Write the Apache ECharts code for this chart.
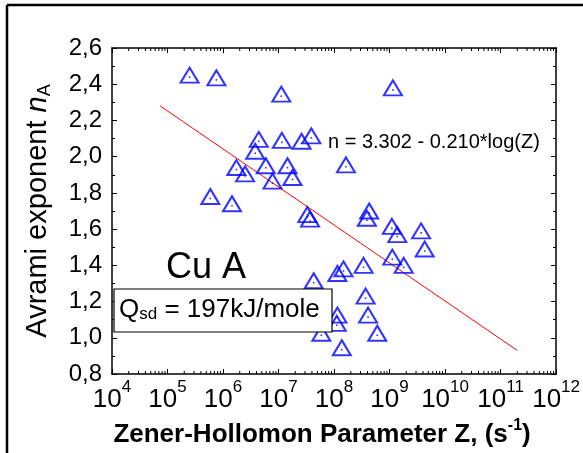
<!DOCTYPE html>
<html>
<head>
<meta charset="utf-8">
<script src="https://cdn.jsdelivr.net/npm/echarts@6/dist/echarts.min.js"></script>
<style>
html,body{margin:0;padding:0;background:#fff;}
#chart{width:583px;height:453px;}
</style>
</head>
<body>
<div id="chart"></div>
<script>
// Zener-Hollomon parameter Z (s^-1)
const zValues = [
  2.5e5, 7.6e5, 1.12e7, 4.4e6, 1.15e7, 2.6e7, 3.9e7, 3.8e6, 1.74e6, 2.5e6,
  5.9e6, 1.45e7, 7.8e6, 1.78e7, 5.9e5, 1.45e6, 3.3e7, 3.7e7, 1.64e8, 4.3e8,
  3.9e8, 1.1e9, 1.38e9, 3.7e9, 4.3e9, 1.12e9, 1.8e9, 3.4e8, 1.48e8, 1.15e8,
  4.3e7, 3.7e8, 4.1e8, 6.0e8, 1.15e8, 1.12e8, 5.9e7, 1.38e8, 1.15e9
];
// Avrami exponent n_A
const nValues = [
  2.45, 2.435, 2.345, 2.095, 2.09, 2.085, 2.115, 2.03, 1.94, 1.905,
  1.95, 1.95, 1.865, 1.885, 1.78, 1.74, 1.68, 1.655, 1.955, 1.70,
  1.66, 1.615, 1.57, 1.59, 1.49, 1.445, 1.40, 1.40, 1.38, 1.355,
  1.315, 1.23, 1.125, 1.025, 1.125, 1.08, 1.025, 0.945, 2.38
];
// Fit line n = 3.302 - 0.210*log(Z), end points
const fitZ = [7.4e4, 2.0e11];
const fitN = [2.28, 0.93];
const fitLabel = 'n = 3.302 - 0.210*log(Z)';
const yTicks = [0.8, 1.0, 1.2, 1.4, 1.6, 1.8, 2.0, 2.2, 2.4, 2.6];
const xDecades = [4, 5, 6, 7, 8, 9, 10, 11, 12];

const FONT = 'Liberation Sans, Arial, Helvetica, sans-serif';
const points = zValues.map((z, i) => [z, nValues[i]]);
const fit = fitZ.map((z, i) => [z, fitN[i]]);
const minorX = [];
for (let k = xDecades[0]; k < xDecades[xDecades.length - 1]; k++) {
  for (let m = 2; m <= 9; m++) minorX.push([m * Math.pow(10, k), yTicks[0]]);
}
const yMin = yTicks[0], yMax = yTicks[yTicks.length - 1];
const xMin = Math.pow(10, xDecades[0]), xMax = Math.pow(10, xDecades[xDecades.length - 1]);

const chart = echarts.init(document.getElementById('chart'), null, {renderer: 'canvas'});
const axisLineStyle = {color: '#000', width: 1.5};
chart.setOption({
  animation: false,
  backgroundColor: '#fff',
  grid: {left: 112, right: 25, top: 48, bottom: 75, containLabel: false},
  xAxis: [{
    type: 'log', logBase: 10, min: xMin, max: xMax, splitNumber: 8,
    position: 'bottom',
    axisLine: {show: true, lineStyle: axisLineStyle},
    axisTick: {show: true, inside: true, length: 5, lineStyle: {color: '#000', width: 1}},
    splitLine: {show: false},
    axisLabel: {
      margin: 5,
      formatter: v => '{b|10}{s|' + Math.round(Math.log10(v)) + '}',
      rich: {
        b: {fontSize: 26, fontFamily: FONT, color: '#000', lineHeight: 34, verticalAlign: 'bottom'},
        s: {fontSize: 17, fontFamily: FONT, color: '#000', lineHeight: 17, verticalAlign: 'top'}
      }
    },
    name: '{t|Zener-Hollomon Parameter Z, (s}{s|-1}{t|)}',
    nameLocation: 'middle', nameGap: 44,
    nameTextStyle: {
      padding: [0, 24, 0, 0],
      rich: {
        t: {fontSize: 26, fontWeight: 'bold', fontFamily: FONT, color: '#000', lineHeight: 30, verticalAlign: 'bottom'},
        s: {fontSize: 16, fontWeight: 'bold', fontFamily: FONT, color: '#000', lineHeight: 16, verticalAlign: 'top'}
      }
    }
  }, {
    type: 'log', logBase: 10, min: xMin, max: xMax, splitNumber: 8,
    position: 'top',
    axisLine: {show: true, lineStyle: axisLineStyle},
    axisTick: {show: true, inside: true, length: 5, lineStyle: {color: '#000', width: 1}},
    axisLabel: {show: false}, splitLine: {show: false}
  }],
  yAxis: [{
    type: 'value', min: yMin, max: yMax, interval: 0.2,
    axisLine: {show: true, lineStyle: axisLineStyle},
    axisTick: {show: true, inside: true, length: 5, lineStyle: {color: '#000', width: 1}},
    minorTick: {show: true, splitNumber: 2, length: 3, lineStyle: {color: '#000', width: 1}},
    splitLine: {show: false},
    axisLabel: {
      margin: 10, fontSize: 24, fontFamily: FONT, color: '#000',
      formatter: v => v.toFixed(1).replace('.', ',')
    },
    name: '{t|Avrami exponent }{i|n}{s|A}',
    nameLocation: 'middle', nameGap: 58, nameRotate: 90,
    nameTextStyle: {
      rich: {
        t: {fontSize: 29, fontFamily: FONT, color: '#000', lineHeight: 32},
        i: {fontSize: 29, fontFamily: FONT, fontStyle: 'italic', color: '#000', lineHeight: 32},
        s: {fontSize: 18, fontFamily: FONT, color: '#000', lineHeight: 32, verticalAlign: 'bottom', padding: [11, 0, 0, 0]}
      }
    }
  }, {
    type: 'value', min: yMin, max: yMax, interval: 0.2, position: 'right',
    axisLine: {show: true, lineStyle: axisLineStyle},
    axisTick: {show: true, inside: true, length: 5, lineStyle: {color: '#000', width: 1}},
    minorTick: {show: true, splitNumber: 2, length: 3, lineStyle: {color: '#000', width: 1}},
    splitLine: {show: false},
    axisLabel: {show: false}
  }],
  series: [{
    type: 'custom',
    xAxisIndex: 0, yAxisIndex: 0,
    data: minorX,
    silent: true,
    renderItem: function (params, api) {
      const b = api.coord([api.value(0), yMin]);
      const t = api.coord([api.value(0), yMax]);
      return {
        type: 'group',
        children: [
          {type: 'line', shape: {x1: b[0], y1: b[1], x2: b[0], y2: b[1] - 3}, style: {stroke: '#000', lineWidth: 1}},
          {type: 'line', shape: {x1: t[0], y1: t[1], x2: t[0], y2: t[1] + 3}, style: {stroke: '#000', lineWidth: 1}}
        ]
      };
    }
  }, {
    type: 'line',
    data: fit,
    showSymbol: false, symbol: 'none',
    lineStyle: {color: '#ff0000', width: 1},
    z: 2
  }, {
    type: 'scatter',
    data: points,
    symbol: 'triangle',
    symbolSize: [18, 15],
    itemStyle: {color: 'rgba(0,0,0,0)', borderColor: '#0000ff', borderWidth: 2},
    z: 3
  }, {
    type: 'scatter',
    data: points,
    symbol: 'rect',
    symbolSize: 1.6,
    symbolOffset: [0, 2],
    itemStyle: {color: '#0000ff'},
    z: 4
  }],
  graphic: [
    {type: 'line', shape: {x1: 7, y1: 5, x2: 583, y2: 5}, style: {stroke: '#000', lineWidth: 2.5}},
    {type: 'line', shape: {x1: 7, y1: 5, x2: 7, y2: 453}, style: {stroke: '#000', lineWidth: 2.5}},
    {type: 'text', left: 328, top: 132, style: {text: fitLabel, font: '20px ' + FONT, fill: '#000'}},
    {type: 'text', left: 166, top: 250, style: {text: 'Cu A', font: '36px ' + FONT, fill: '#000'}},
    {type: 'rect', shape: {x: 114, y: 289, width: 218, height: 43}, style: {fill: '#fff', stroke: '#000', lineWidth: 1.2}, z: 10},
    {type: 'text', left: 119, top: 292, z: 11, style: {
      text: '{q|Q}{s|sd}{q| = 197kJ/mole}',
      rich: {
        q: {fontSize: 26, fontFamily: FONT, fill: '#000', lineHeight: 30, verticalAlign: 'bottom'},
        s: {fontSize: 17, fontFamily: FONT, fill: '#000', lineHeight: 30, verticalAlign: 'bottom', padding: [14, 0, 0, 0]}
      }
    }}
  ]
});
</script>
</body>
</html>
